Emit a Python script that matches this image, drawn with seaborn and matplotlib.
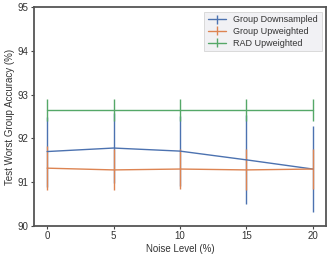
import numpy as np
import matplotlib
matplotlib.use("Agg")
import matplotlib.pyplot as plt
import seaborn as sns

# noise level (%) on x, worst-group accuracy (%) on y
noise = [0, 5, 10, 15, 20]

grp_down = [91.70, 91.78, 91.71, 91.51, 91.30]
grp_down_err = [0.80, 0.80, 0.80, 1.02, 0.99]

grp_up = [91.32, 91.28, 91.30, 91.28, 91.30]
grp_up_err = [0.50, 0.47, 0.46, 0.47, 0.46]

rad_up = [92.64, 92.64, 92.64, 92.64, 92.64]
rad_up_err = [0.25, 0.25, 0.25, 0.25, 0.25]

labels = ["Group Downsampled", "Group Upweighted", "RAD Upweighted"]

sns.set_theme(style="ticks", palette="deep")
plt.rcParams["font.family"] = ["Liberation Sans", "DejaVu Sans"]
plt.rcParams["font.size"] = 7

colors = sns.color_palette("deep")

fig, ax = plt.subplots(figsize=(3.32, 2.57), dpi=100)

series = [(grp_down, grp_down_err), (grp_up, grp_up_err), (rad_up, rad_up_err)]
for (y, err), lab, c in zip(series, labels, colors):
    ax.errorbar(noise, y, yerr=err, color=c, lw=1.0, elinewidth=1.0,
                capsize=0, label=lab)

ax.set_xlim(-1, 21)
ax.set_ylim(90, 95)
ax.set_xticks(noise)
ax.set_yticks([90, 91, 92, 93, 94, 95])
ax.tick_params(labelsize=7, length=2.5, width=0.8, colors="#444444",
               labelcolor="#333333", pad=1.5)
ax.set_xlabel("Noise Level (%)", fontsize=7, labelpad=2, color="#333333")
ax.set_ylabel("Test Worst Group Accuracy (%)", fontsize=7, labelpad=2,
              color="#333333")

for s in ax.spines.values():
    s.set_color("#555555")
    s.set_linewidth(1.3)

leg = ax.legend(loc="upper right", fontsize=6.5, frameon=True, fancybox=False,
                handlelength=2.0, borderpad=0.4, labelspacing=0.3)
leg.get_frame().set_facecolor("#eeeef2")
leg.get_frame().set_edgecolor("#cccccc")
leg.get_frame().set_linewidth(0.6)
for t in leg.get_texts():
    t.set_color("#333333")

fig.subplots_adjust(left=0.102, right=0.982, top=0.972, bottom=0.121)
fig.savefig("out.png", dpi=100)
